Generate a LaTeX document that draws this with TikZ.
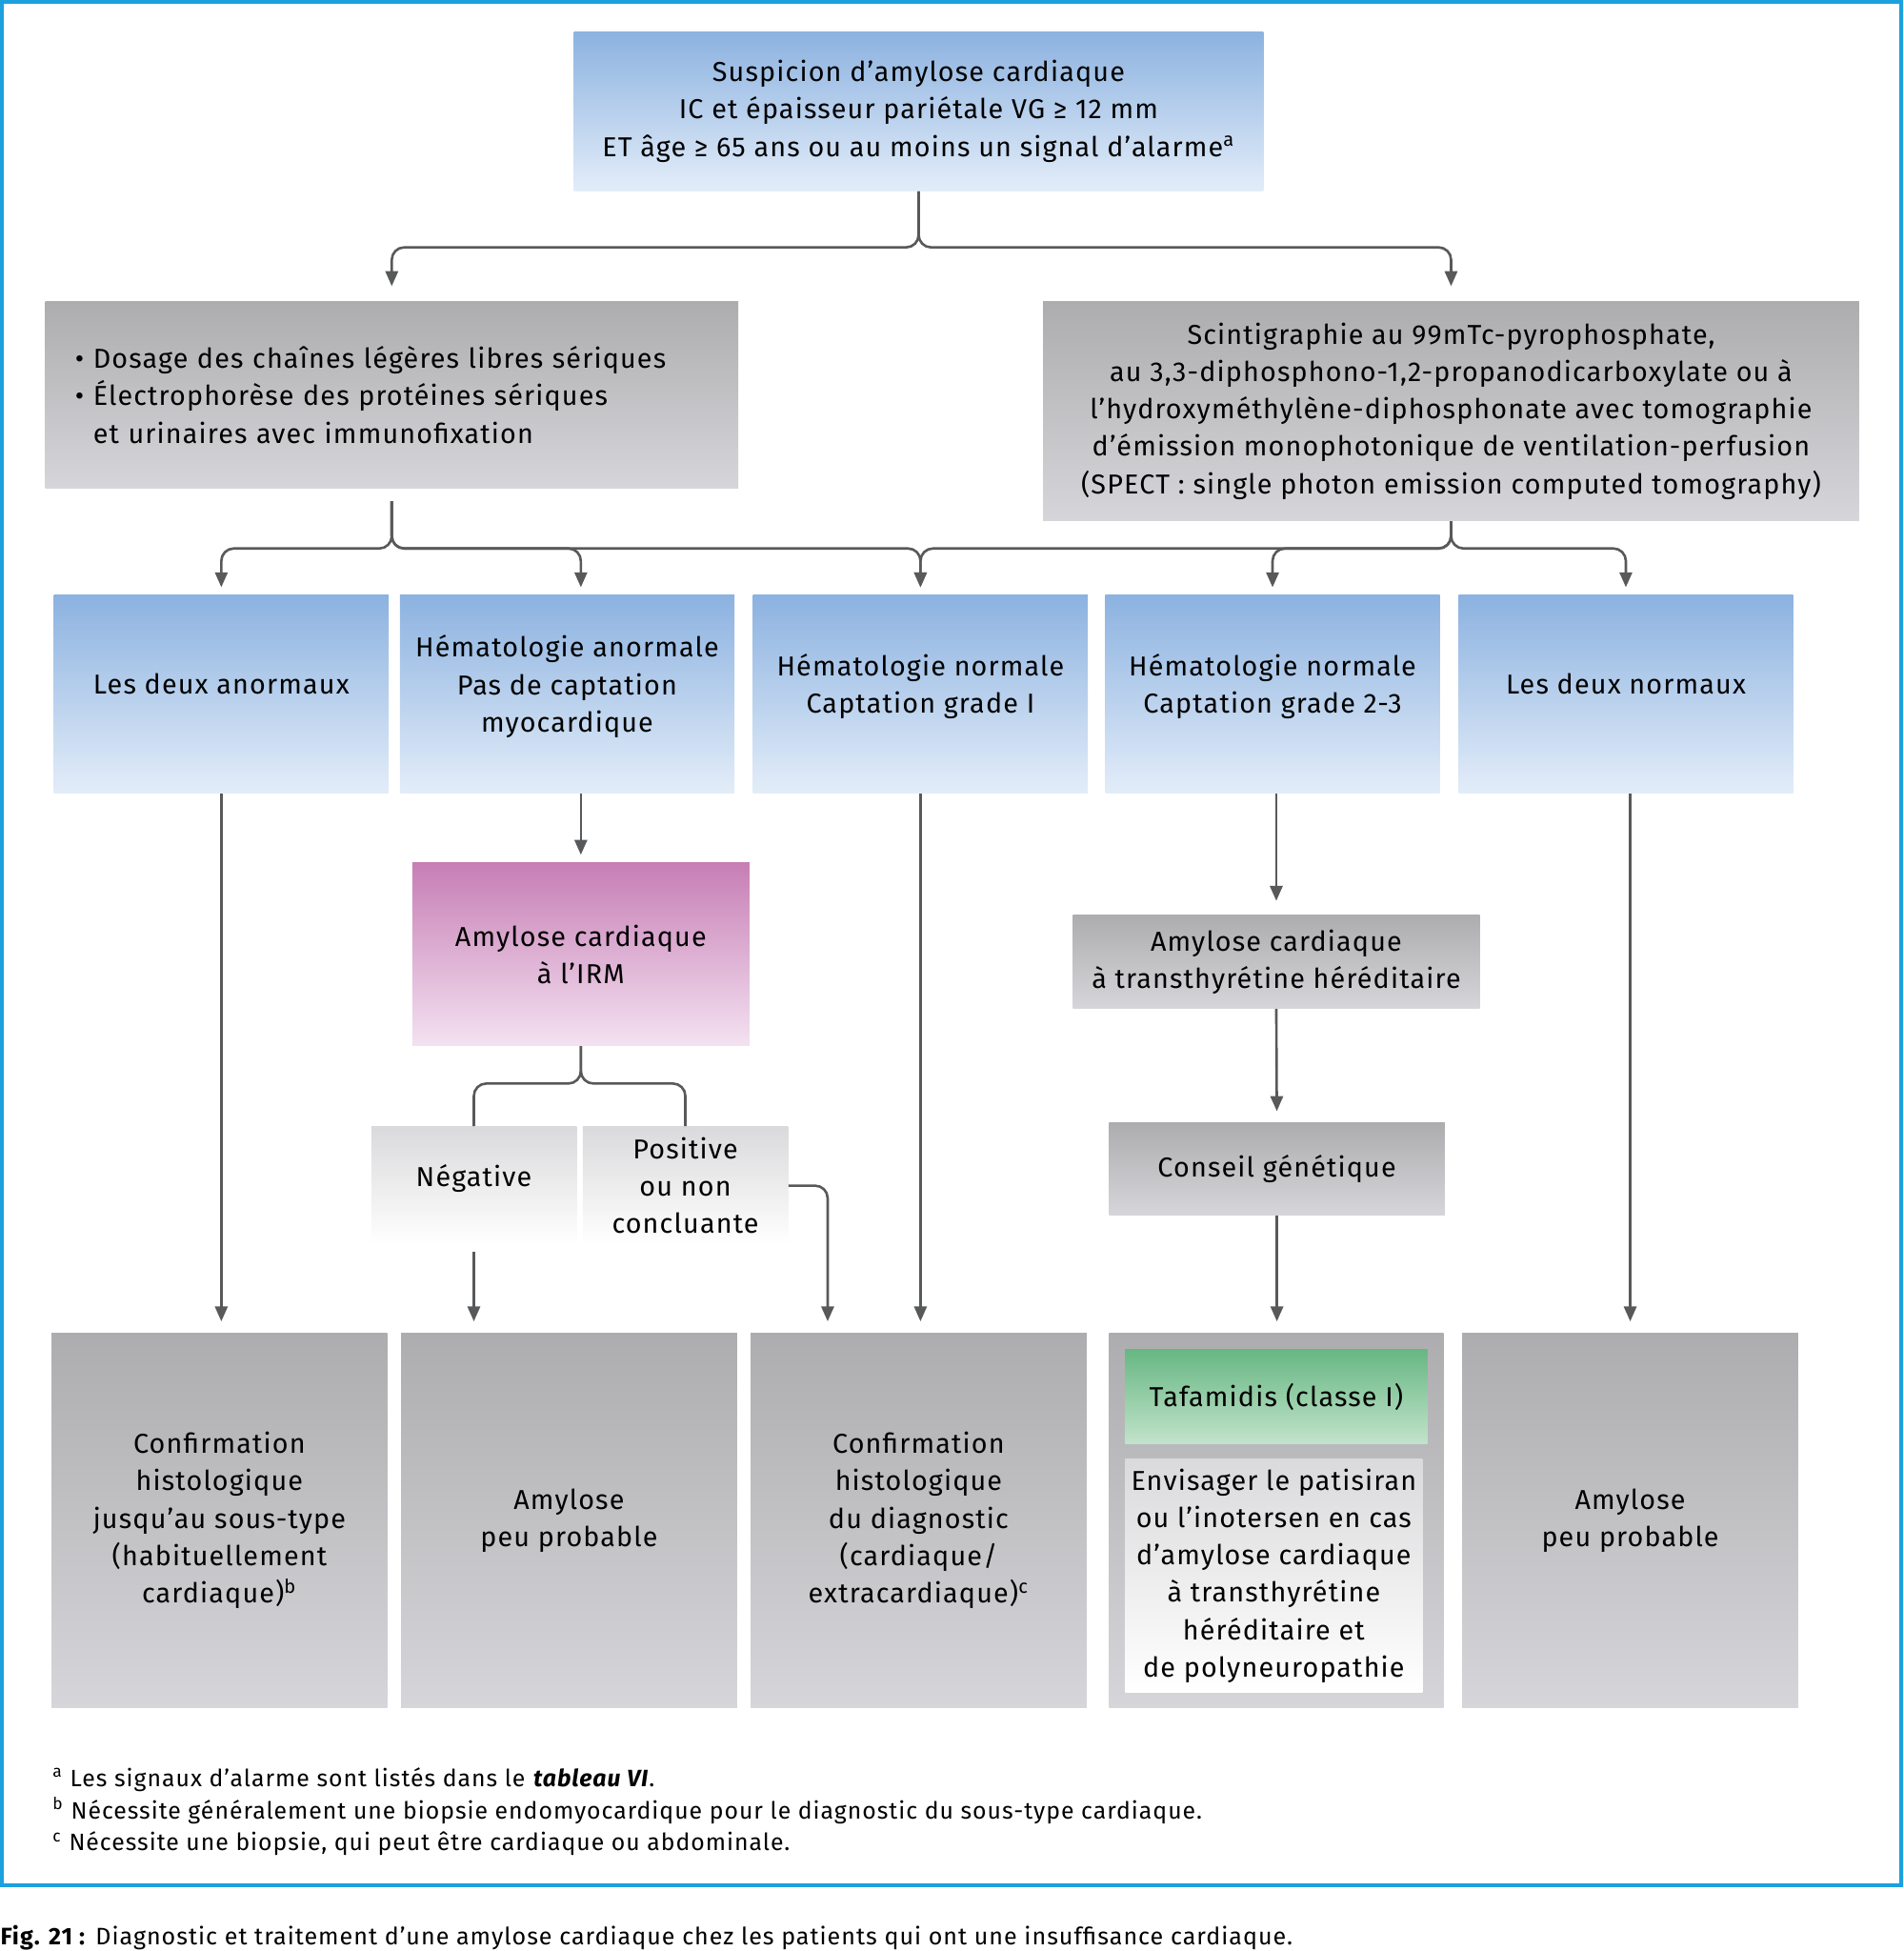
\documentclass[tikz,border=0pt]{standalone}
\usepackage{fontspec}
\setmainfont{Fira Sans}[LetterSpace=4]
\usepackage{tikz}
\usetikzlibrary{calc, positioning, arrows.meta}

\definecolor{lineg}{HTML}{58595B}
\definecolor{framec}{HTML}{1CA0DE}
\definecolor{bluetop}{HTML}{8CB2E0}
\definecolor{bluebot}{HTML}{E3EDF9}
\definecolor{graytop}{HTML}{ADADAF}
\definecolor{graybot}{HTML}{D6D6DA}
\definecolor{pinktop}{HTML}{C77EB5}
\definecolor{pinkbot}{HTML}{F3E2F1}
\definecolor{greentop}{HTML}{67B783}
\definecolor{greenbot}{HTML}{C2E3CB}
\definecolor{lighttop}{HTML}{DADADC}

\newcommand{\lowr}{\rule[-8.5pt]{0pt}{8.5pt}}

\begin{document}
\begin{tikzpicture}[x=0.5pt, y=-0.5pt,
    box/.style={anchor=north west, inner sep=0pt, align=center, font=\fontsize{11}{15}\selectfont},
    bluebox/.style={box, top color=bluetop, bottom color=bluebot},
    graybox/.style={box, top color=graytop, bottom color=graybot},
    pinkbox/.style={box, top color=pinktop, bottom color=pinkbot},
    greenbox/.style={box, top color=greentop, bottom color=greenbot},
    lightbox/.style={box, top color=lighttop, bottom color=white},
    colbox/.style={minimum width=134.5pt, minimum height=79.5pt},
    endbox/.style={graybox, minimum width=135pt, minimum height=150.5pt},
    link/.style={draw=lineg, line width=1pt, rounded corners=5pt},
    arr/.style={link, -{Triangle[length=6pt,width=5pt]}}]
    \useasboundingbox (0,0) rectangle (1530,1568);
    \draw[framec, line width=1.5pt] (1.5,1.5) rectangle (1528,1515);

    % first levels
    \node[bluebox, minimum width=277pt, minimum height=64pt] (susp) at (461,25)
        {Suspicion d’amylose cardiaque\\IC et épaisseur pariétale VG ≥ 12 mm\\ET âge ≥ 65 ans ou au moins un signal d’alarme\textsuperscript{a}};
    \node[graybox, align=left, minimum width=278.5pt, minimum height=75pt, text width=254.5pt, inner xsep=12pt] (dosage) at (36,242)
        {\textbullet\ Dosage des chaînes légères libres sériques\\\textbullet\ Électrophorèse des protéines sériques\\\phantom{\textbullet\ }et urinaires avec immunofixation};
    \node[graybox, minimum width=328pt, minimum height=88pt] (scinti) at (838,242)
        {Scintigraphie au 99mTc-pyrophosphate,\\au 3,3-diphosphono-1,2-propanodicarboxylate ou à\\l’hydroxyméthylène-diphosphonate avec tomographie\\d’émission monophotonique de ventilation-perfusion\\(SPECT : single photon emission computed tomography)};

    % results
    \node[bluebox, colbox] (anorm) at (43,478) {Les deux anormaux\lowr};
    \node[bluebox, colbox] (hemaa) at (321,478) {Hématologie anormale\\Pas de captation\\myocardique\lowr};
    \node[bluebox, colbox] (hemn1) at (605,478) {Hématologie normale\\Captation grade I\lowr};
    \node[bluebox, colbox] (hemn23) at (888,478) {Hématologie normale\\Captation grade 2-3\lowr};
    \node[bluebox, colbox] (norm) at (1172,478) {Les deux normaux\lowr};

    % middle
    \node[pinkbox, minimum width=135.5pt, minimum height=73.5pt] (irm) at (331,693) {Amylose cardiaque\\à l’IRM};
    \node[lightbox, minimum width=82.5pt, minimum height=47.5pt] (neg) at (298,905) {Négative\lowr};
    \node[lightbox, minimum width=82.5pt, minimum height=47.5pt] (pos) at (468,905) {Positive\\ou non\\concluante};
    \node[graybox, minimum width=163.5pt, minimum height=37.5pt] (attr) at (862,735) {Amylose cardiaque\\à transthyrétine héréditaire};
    \node[graybox, minimum width=135pt, minimum height=37pt] (gen) at (891,902) {Conseil génétique};

    % conclusions
    \node[endbox] (c1) at (41,1071) {Confirmation\\histologique\\jusqu’au sous-type\\(habituellement\\cardiaque)\textsuperscript{b}};
    \node[endbox] (c2) at (322,1071) {Amylose\\peu probable};
    \node[endbox] (c3) at (603,1071) {Confirmation\\histologique\\du diagnostic\\(cardiaque/\\extracardiaque)\textsuperscript{c}};
    \node[endbox, minimum width=134.5pt] (c4) at (891,1071) {};
    \node[endbox] (c5) at (1175,1071) {Amylose\\peu probable};
    \node[greenbox, minimum width=121.5pt, minimum height=38pt] (taf) at (904,1084) {Tafamidis (classe I)};
    \node[lightbox, minimum width=119.5pt, minimum height=94pt] (pati) at (904,1172)
        {Envisager le patisiran\\ou l’inotersen en cas\\d’amylose cardiaque\\à transthyrétine\\héréditaire et\\de polyneuropathie};

    % connectors
    \draw[arr, shorten >=6pt] (susp.south) -- ++(0,45) -| (dosage.north);
    \draw[arr, shorten >=6pt] (susp.south) -- ++(0,45) -| (scinti.north);
    \draw[arr, shorten <=5pt, shorten >=3pt] (dosage.south) -- ++(0,48) -| (anorm.north);
    \draw[arr, shorten <=5pt, shorten >=3pt] (dosage.south) -- ++(0,48) -| (hemaa.north -| irm.north);
    \draw[arr, shorten <=5pt, shorten >=3pt] (dosage.south) -- ++(0,48) -| (hemn1.north);
    \draw[arr, shorten >=3pt] (scinti.south) -- ++(0,22) -| (hemn1.north);
    \draw[arr, shorten >=3pt] (scinti.south) -- ++(0,22) -| (hemn23.north);
    \draw[arr, shorten >=3pt] (scinti.south) -- ++(0,22) -| (norm.north);

    \draw[arr, shorten >=4.5pt] (anorm.south) -- (anorm.south |- c1.north);
    \draw[arr, shorten >=3pt] (hemaa.south -| irm.north) -- (irm.north);
    \draw[link] (irm.south) -- ++(0,30) -| (neg.north);
    \draw[link] (irm.south) -- ++(0,30) -| (pos.north);
    \draw[arr, shorten <=2.5pt, shorten >=4.5pt] (neg.south) -- (neg.south |- c2.north);
    \draw[arr, shorten >=4.5pt] (pos.east) -| ($(c3.north west)!0.23!(c3.north east)$);
    \draw[arr, shorten >=4.5pt] (hemn1.south) -- (hemn1.south |- c3.north);
    \draw[arr, shorten >=5.5pt] (hemn23.south -| attr.north) -- (attr.north);
    \draw[arr, shorten >=4.5pt] (attr.south) -- (gen.north);
    \draw[arr, shorten >=4.5pt] (gen.south) -- (gen.south |- c4.north);
    \draw[arr, shorten >=4.5pt] (norm.south -| c5.north) -- (c5.north);

    % notes and caption
    \node[anchor=west, inner sep=0pt, align=left, font=\fontsize{9.5}{13}\selectfont] (notes) at (42,1456)
        {\textsuperscript{a} Les signaux d’alarme sont listés dans le \textbf{\textit{tableau VI}}.\\
         \textsuperscript{b} Nécessite généralement une biopsie endomyocardique pour le diagnostic du sous-type cardiaque.\\
         \textsuperscript{c} Nécessite une biopsie, qui peut être cardiaque ou abdominale.};
    \node[anchor=west, inner sep=0pt, font=\fontsize{9.6}{12}\selectfont] (cap) at (0,1557)
        {\textbf{Fig. 21 :} Diagnostic et traitement d’une amylose cardiaque chez les patients qui ont une insuffisance cardiaque.};
\end{tikzpicture}
\end{document}
